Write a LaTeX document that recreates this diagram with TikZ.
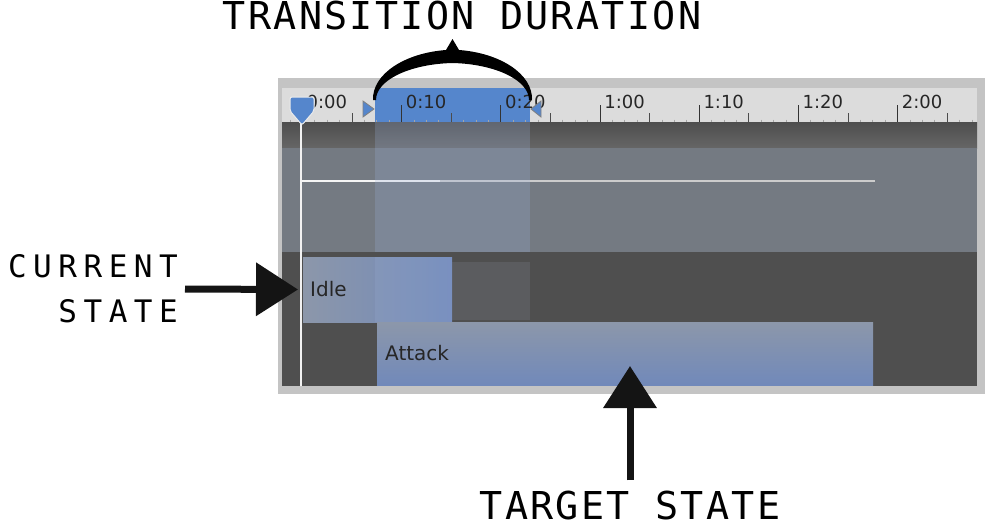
\documentclass[tikz,border=0pt]{standalone}
\usepackage{fontspec}
\usetikzlibrary{arrows.meta, positioning}
\newfontfamily\rulerfont{DejaVu Sans}
\newfontfamily\annofont[LetterSpace=6]{DejaVu Sans Mono}
\newfontfamily\annofontwide[LetterSpace=21]{DejaVu Sans Mono}
\definecolor{framegray}{HTML}{C4C4C4}
\definecolor{rulergray}{HTML}{DCDCDC}
\definecolor{selblue}{HTML}{5586CC}
\definecolor{bandgray}{HTML}{4E4E4E}
\definecolor{trackgray}{HTML}{747A82}
\definecolor{lanegray}{HTML}{4F4F4F}
\definecolor{gapgray}{HTML}{5B5C5F}
\definecolor{clipgray}{HTML}{8C97AA}
\definecolor{clipblue}{HTML}{7189BA}
\definecolor{fadeblue}{HTML}{9AB0D8}

\begin{document}
\begin{tikzpicture}[x=1pt, y=-1pt,
  anno/.style={font=\annofont\fontsize{38.4}{40}\selectfont, inner sep=0pt},
  tick label/.style={font=\rulerfont\fontsize{18}{20}\selectfont, text=black!85, inner sep=0pt, anchor=west},
  clip box/.style={anchor=north west, inner sep=0pt, outer sep=0pt},
  clip name/.style={font=\rulerfont\fontsize{20}{22}\selectfont, text=black!85, inner sep=0pt},
  big arrow/.style={line width=7pt, black!92, -{Triangle[length=42pt, width=52pt]}},
]
\useasboundingbox (0,0) rectangle (986,530);

% Frame and panel
\fill[framegray] (278,78) rectangle (985,394);
\fill[lanegray] (282,122) rectangle (977,386);

% Ruler
\fill[rulergray] (282,88) rectangle (977,122);
\fill[selblue] (375,88) rectangle (530,122);
\foreach \i in {0,...,55}
  \draw[gray!70, line width=0.8pt] ({290+12.4*\i},119.5) -- ++(0,2.5);
\foreach \i/\t in {0/0:00, 1/0:10, 2/0:20, 3/1:00, 4/1:10, 5/1:20, 6/2:00} {
  \draw[black!80, line width=1pt] ({302.5+99.2*\i},105) -- ++(0,17);
  \node[tick label] at ({306.5+99.2*\i},102) {\t};
}
\foreach \i in {0,...,6}
  \draw[black!70, line width=1pt] ({352+99.2*\i},113) -- ++(0,9);

% Tracks
\shade[top color=bandgray, bottom color=black!60!white] (282,122) rectangle (977,148);
\fill[trackgray] (282,148) rectangle (977,252);
\draw[white!92!gray, line width=1.8pt] (301,181) -- (440,181);
\draw[black!20, line width=1.6pt] (440,181) -- (875,181);
\fill[fadeblue, opacity=0.25] (375,122) rectangle (530,252);
\fill[gapgray] (452,262) rectangle (530,320);

% Clips
\node[clip box, minimum width=149pt, minimum height=65pt, left color=clipgray, right color=clipblue] (idle) at (303,257) {};
\node[clip box, minimum width=496pt, minimum height=63pt, top color=clipgray, bottom color=clipblue] (attack) at (377,322) {};
\fill[fadeblue, opacity=0.2] (375,257) rectangle (452,322);
\node[clip name, anchor=west, right=7pt of idle.west] {Idle};
\node[clip name, anchor=west, right=8pt of attack.west] {Attack};

% Playhead and transition markers
\draw[white!90!gray, line width=1.2pt] (301,122) -- (301,386);
\filldraw[fill=selblue, draw=white!85!gray, line width=1pt, rounded corners=2pt]
  (290,97) -- (314,97) -- (314,111) -- (302,125) -- (290,111) -- cycle;
\filldraw[fill=selblue, draw=gray, line width=0.8pt] (363,101) -- (374,109) -- (363,117) -- cycle;
\filldraw[fill=selblue, draw=gray, line width=0.8pt] (541,101) -- (531,109) -- (541,117) -- cycle;

% Brace
\fill[black] (373,100) .. controls (372,74) and (405,53) .. (446,50) -- (452.5,39) -- (459,50)
  .. controls (500,53) and (533,74) .. (532,100) -- (529,100)
  .. controls (529,80) and (495,64) .. (452.5,63) .. controls (410,64) and (376,80) .. (376,100) -- cycle;

% Annotations
\node[anno] (duration) at (462,16) {TRANSITION DURATION};
\node[anno, font=\annofontwide\fontsize{31}{45}\selectfont, align=right, anchor=east] (current) at (178,289) {CURRENT\\STATE};
\node[anno] (target) at (630,506) {TARGET STATE};
\coordinate (attacktip) at (630,366);

\draw[big arrow] ([xshift=7pt]current.east) -- ([xshift=-5pt]idle.west);
\draw[big arrow] ([yshift=11pt]target.north) -- (attacktip);
\end{tikzpicture}
\end{document}
